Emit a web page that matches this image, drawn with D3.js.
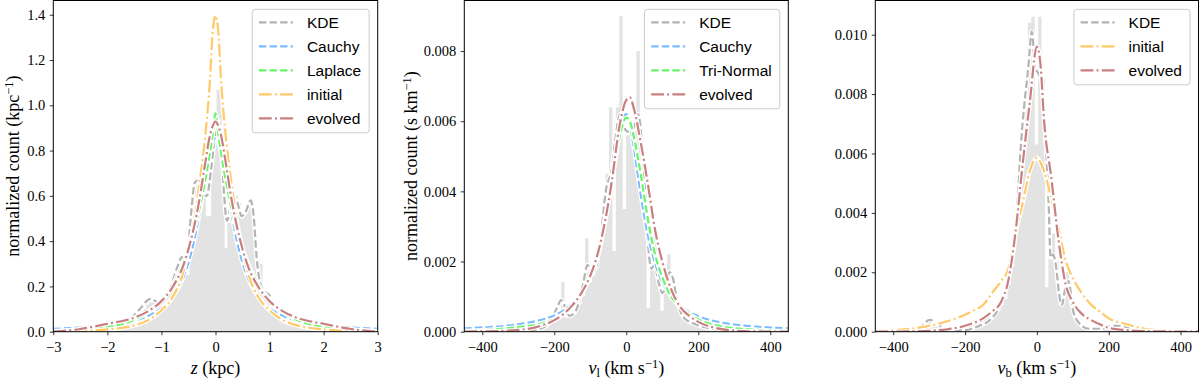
<!DOCTYPE html>
<html>
<head>
<meta charset="utf-8">
<script src="https://cdn.jsdelivr.net/npm/d3@7"></script>
<style>
body { margin: 0; background: #fff; }
svg { display: block; }
</style>
</head>
<body>
<div id="chart"></div>
<script>
'use strict';

// ---- panel 1 : z (kpc) ----
var zGrid = [-3,-2.5,-2,-1.5,-1.25,-1,-0.8,-0.6,-0.5,-0.4,-0.3,-0.2,-0.1,-0.05,0,0.05,0.1,0.2,0.3,0.4,0.5,0.6,0.8,1,1.25,1.5,2,2.5,3];
var zCauchy  = [0.0129,0.0185,0.0286,0.0495,0.0696,0.104,0.152,0.237,0.305,0.397,0.518,0.663,0.797,0.840,0.855,0.840,0.797,0.663,0.518,0.397,0.305,0.237,0.152,0.104,0.0696,0.0495,0.0286,0.0185,0.0129];
var zLaplace = [0.0029,0.0077,0.0203,0.0533,0.0865,0.140,0.206,0.303,0.368,0.446,0.541,0.656,0.795,0.876,0.965,0.876,0.795,0.656,0.541,0.446,0.368,0.303,0.206,0.140,0.0865,0.0533,0.0203,0.0077,0.0029];
var zInitial = [0,0.003,0.01,0.028,0.05,0.095,0.15,0.26,0.36,0.48,0.65,0.84,1.12,1.33,1.396,1.33,1.12,0.84,0.65,0.48,0.36,0.26,0.15,0.095,0.05,0.028,0.01,0.003,0];
var zEvolved = [0,0.012,0.035,0.062,0.09,0.135,0.195,0.29,0.365,0.46,0.58,0.73,0.87,0.91,0.928,0.91,0.87,0.73,0.58,0.46,0.365,0.29,0.195,0.135,0.09,0.062,0.035,0.012,0];
var zKdeX = [-2.5,-2.2,-2.0,-1.8,-1.6,-1.4,-1.2,-1.05,-0.9,-0.8,-0.7,-0.62,-0.54,-0.46,-0.38,-0.32,-0.22,-0.16,-0.08,0,0.05,0.1,0.16,0.21,0.28,0.36,0.43,0.48,0.56,0.65,0.71,0.76,0.85,0.95,1.0,1.1,1.25,1.5,1.8,2.1,2.5];
var zKde  = [0,0.003,0.01,0.025,0.05,0.1,0.145,0.13,0.17,0.22,0.29,0.33,0.27,0.5,0.66,0.67,0.6,0.6,0.72,0.88,0.935,0.86,0.6,0.49,0.55,0.59,0.55,0.51,0.53,0.58,0.5,0.33,0.2,0.17,0.16,0.09,0.05,0.03,0.015,0.003,0];
var zHistStart = -2.53, zHistWidth = 0.05;
var zHist = [0.01,0.01,0.01,0.015,0.01,0.015,0.015,0.02,0.015,0.02,
    0.02,0.025,0.025,0.03,0.03,0.035,0.04,0.04,0.05,0.055,
    0.06,0.07,0.08,0.09,0.1,0.12,0.13,0.13,0.12,0.12,
    0.13,0.15,0.17,0.2,0.22,0.25,0.29,0.31,0.32,0.25,
    0.25,0.44,0.52,0.68,0.68,0.66,0.6,0.51,0.51,0.78,
    0.85,1.07,1.07,0.75,0.37,0.48,0.55,0.57,0.6,0.57,
    0.5,0.52,0.55,0.57,0.52,0.45,0.32,0.3,0.18,0.17,
    0.17,0.12,0.1,0.08,0.07,0.06,0.05,0.045,0.04,0.035,
    0.03,0.03,0.025,0.025,0.02,0.02,0.02,0.015,0.015,0.015,
    0.01,0.01,0.01,0.01,0.008,0.008,0.005,0.005,0.005,0.005];

// ---- panels 2 and 3 : velocities (km/s) ----
var vGrid = [-450,-400,-350,-300,-250,-200,-175,-150,-125,-100,-80,-60,-40,-20,0,10,20,40,60,80,100,125,150,175,200,250,300,350,400,450];

var vlCauchy = [0.0000961,0.000121,0.000153,0.000214,0.000303,0.000464,0.000598,0.000788,0.00108,0.00156,0.00214,0.00305,0.00433,0.00571,0.0062,0.0059,0.00532,0.00391,0.00274,0.00195,0.00142,0.000998,0.000734,0.00056,0.000438,0.00029,0.000205,0.000153,0.000118,0.0000937];
var vlTriNormal = [0.00002,0.00004,0.00008,0.00013,0.0002,0.00036,0.0005,0.00072,0.00105,0.0016,0.0023,0.0032,0.0043,0.0055,0.0061,0.006,0.0056,0.0045,0.0032,0.0022,0.00155,0.001,0.0007,0.0005,0.00035,0.00018,0.0001,0.00006,0.00003,0.00002];
var vlEvolved = [0,0.00001,0.00002,0.00005,0.00013,0.00033,0.0005,0.00075,0.0011,0.0016,0.0022,0.0031,0.0043,0.0058,0.0066,0.00668,0.0064,0.0054,0.0042,0.0029,0.002,0.0012,0.0007,0.00045,0.00028,0.0001,0.00003,0.00001,0,0];
var vlKdeX = [-270,-230,-205,-192,-181,-170,-158,-140,-121,-108,-95,-85,-70,-57,-39,-29,-17,-5,5,20,33,44,53,62,70,78,90,100,110,120,130,141,160,195,230,270];
var vlKde  = [0.00003,0.00012,0.0004,0.0007,0.0009,0.0007,0.00045,0.0006,0.0013,0.0019,0.0017,0.0018,0.0028,0.004,0.0047,0.0056,0.0062,0.0058,0.0057,0.0058,0.0062,0.0053,0.0039,0.0023,0.0018,0.0019,0.0014,0.0011,0.0013,0.0017,0.0015,0.0009,0.0004,0.0002,0.0001,0.00003];
var vlHistStart = -295, vlHistWidth = 9.5;
var vlHist = [0.00008,0.0001,0.0001,0.00012,0.00013,0.00015,0.00017,0.0002,0.00022,0.00025,
    0.0003,0.00035,0.00142,0.0004,0.00045,0.0005,0.0006,0.0008,0.001,0.00266,
    0.0014,0.0016,0.0019,0.0023,0.0038,0.0045,0.0064,0.0023,0.0064,0.009,
    0.0035,0.0056,0.0057,0.0057,0.008,0.0055,0.0035,0.00067,0.0021,0.003,
    0.0016,0.0006,0.0012,0.0022,0.0011,0.0008,0.0006,0.0005,0.0004,0.00035,
    0.0003,0.00025,0.0002,0.00018,0.00015,0.00012,0.0001,0.0001,0.00008,0.00006,
    0.00005,0.00004];

var vbInitial = [0.00002,0.00005,0.0001,0.0002,0.00035,0.00057,0.00072,0.0009,0.0013,0.0017,0.0021,0.0033,0.0043,0.0054,0.00585,0.0057,0.0054,0.0045,0.0035,0.0024,0.0018,0.0013,0.00092,0.00068,0.00045,0.00025,0.0001,0.00004,0.00001,0];
var vbEvolved = [0,0,0.00001,0.00003,0.00008,0.0002,0.0003,0.00045,0.00068,0.001,0.0017,0.0033,0.0056,0.0077,0.0096,0.009,0.0071,0.0052,0.0031,0.0016,0.001,0.0006,0.0004,0.00025,0.00013,0.00005,0.00002,0.00001,0,0];
var vbKdeX = [-360,-330,-298,-270,-240,-200,-160,-130,-102,-85,-74,-60,-42,-24,-14,-5,4,14,23,33,38,45,52,64,70,78,88,101,117,145,180,210,235,270,300];
var vbKde  = [0.00002,0.0001,0.0004,0.0002,0.00005,0.00005,0.0002,0.0004,0.0009,0.0015,0.0021,0.0033,0.0067,0.0089,0.0101,0.0089,0.0087,0.0084,0.0067,0.0042,0.0025,0.0026,0.0023,0.0011,0.0009,0.0014,0.0017,0.0007,0.0003,0.0001,0.0001,0.0002,0.0002,0.00005,0];
var vbHistStart = -348, vbHistWidth = 9.5;
var vbHist = [0.00005,0.0001,0.0002,0.0003,0.0004,0.0004,0.0003,0.0002,0.0001,0.00008,
    0.00006,0.00006,0.00008,0.0001,0.0001,0.00012,0.00015,0.0002,0.00025,0.0003,
    0.0004,0.0005,0.0006,0.0007,0.0007,0.0008,0.0009,0.0011,0.0016,0.0022,
    0.0033,0.0045,0.006,0.0075,0.0104,0.0106,0.0063,0.0106,0.0085,0.0015,
    0.0028,0.0033,0.0024,0.0009,0.0012,0.002,0.0009,0.0005,0.0003,0.0002,
    0.00015,0.0001,0.0001,0.00008,0.00008,0.0001,0.00015,0.0002,0.0002,0.0002,
    0.0002,0.00015,0.0001,0.00008,0.00005,0.00003,0.00002];

// tick values
var zTicks = [-3,-2,-1,0,1,2,3];
var zYTicks = [0,0.2,0.4,0.6,0.8,1.0,1.2,1.4];
var vTicks = [-400,-200,0,200,400];
var vlYTicks = [0,0.002,0.004,0.006,0.008];
var vbYTicks = [0,0.002,0.004,0.006,0.008,0.010];

// line styles
var styles = {
    KDE:          {color: "#808080", dash: "7.4,3.2"},
    Cauchy:       {color: "#1e90ff", dash: "7.4,3.2"},
    Laplace:      {color: "#00ee00", dash: "7.4,3.2"},
    "Tri-Normal": {color: "#00ee00", dash: "7.4,3.2"},
    initial:      {color: "#ffa500", dash: "12.8,3.2,2,3.2"},
    evolved:      {color: "#a52a2a", dash: "12.8,3.2,2,3.2"}
};

var SERIF = "'Liberation Serif', 'DejaVu Serif', serif";
var SANS = "'Liberation Sans', Arial, sans-serif";

var W = 1200, H = 380, plotBottom = 331.7, plotTop = 0.5;

var svg = d3.select("#chart").append("svg")
    .attr("width", W).attr("height", H);

var panels = [
    {id: "p1", left: 53.3, right: 377.7, xDomain: [-3, 3], yMax: 1.463,
     xTicks: zTicks, yTicks: zYTicks, xFmt: d3.format("d"), yFmt: d3.format(".1f"),
     histStart: zHistStart, histWidth: zHistWidth, hist: zHist,
     series: [
        {name: "KDE", x: zKdeX, y: zKde},
        {name: "Cauchy", x: zGrid, y: zCauchy},
        {name: "Laplace", x: zGrid, y: zLaplace},
        {name: "initial", x: zGrid, y: zInitial},
        {name: "evolved", x: zGrid, y: zEvolved}],
     xlabel: [{t: "z", it: true}, {t: " (kpc)"}],
     ylabel: [{t: "normalized count (kpc"}, {t: "\u22121", sup: true}, {t: ")", dy: 6}],
     ylabelX: 19},
    {id: "p2", left: 464.3, right: 788.3, xDomain: [-450, 450], yMax: 0.00944,
     xTicks: vTicks, yTicks: vlYTicks, xFmt: d3.format("d"), yFmt: d3.format(".3f"),
     histStart: vlHistStart, histWidth: vlHistWidth, hist: vlHist,
     series: [
        {name: "KDE", x: vlKdeX, y: vlKde},
        {name: "Cauchy", x: vGrid, y: vlCauchy},
        {name: "Tri-Normal", x: vGrid, y: vlTriNormal},
        {name: "evolved", x: vGrid, y: vlEvolved}],
     xlabel: [{t: "v", it: true}, {t: "l", sub: true}, {t: " (km s", dy: -3}, {t: "\u22121", sup: true}, {t: ")", dy: 6}],
     ylabel: [{t: "normalized count (s km"}, {t: "\u22121", sup: true}, {t: ")", dy: 6}],
     ylabelX: 417},
    {id: "p3", left: 875.3, right: 1198.5, xDomain: [-450, 450], yMax: 0.01115,
     xTicks: vTicks, yTicks: vbYTicks, xFmt: d3.format("d"), yFmt: d3.format(".3f"),
     histStart: vbHistStart, histWidth: vbHistWidth, hist: vbHist,
     series: [
        {name: "KDE", x: vbKdeX, y: vbKde},
        {name: "initial", x: vGrid, y: vbInitial},
        {name: "evolved", x: vGrid, y: vbEvolved}],
     xlabel: [{t: "v", it: true}, {t: "b", sub: true}, {t: " (km s", dy: -3}, {t: "\u22121", sup: true}, {t: ")", dy: 6}],
     ylabel: null}
];

panels.forEach(drawPanel);

function addParts(text, parts) {
    parts.forEach(function(p) {
        var ts = text.append("tspan").text(p.t);
        if (p.it) ts.style("font-style", "italic");
        if (p.sup) ts.style("font-size", "12.5px").attr("dy", -6);
        else if (p.sub) ts.style("font-size", "12.5px").attr("dy", 3);
        else if (p.dy) ts.attr("dy", p.dy);
    });
}

function drawPanel(p) {
    var g = svg.append("g");
    var x = d3.scaleLinear().domain(p.xDomain).range([p.left, p.right]);
    var y = d3.scaleLinear().domain([0, p.yMax]).range([plotBottom, plotTop]);

    svg.append("clipPath").attr("id", "clip-" + p.id)
        .append("rect")
        .attr("x", p.left).attr("y", plotTop)
        .attr("width", p.right - p.left).attr("height", plotBottom - plotTop);

    var plot = g.append("g").attr("clip-path", "url(#clip-" + p.id + ")");

    // histogram, step filled
    var pts = p.hist.map(function(v, i) { return [p.histStart + i * p.histWidth, v]; });
    pts.push([p.histStart + p.hist.length * p.histWidth, p.hist[p.hist.length - 1]]);
    plot.append("path")
        .datum(pts)
        .attr("fill", "#e3e3e3")
        .attr("d", d3.area()
            .x(function(d) { return x(d[0]); })
            .y0(y(0))
            .y1(function(d) { return y(d[1]); })
            .curve(d3.curveStepAfter));

    var line = d3.line()
        .x(function(d) { return x(d[0]); })
        .y(function(d) { return y(d[1]); })
        .curve(d3.curveMonotoneX);

    p.series.forEach(function(s) {
        var data = s.x.map(function(xx, i) { return [xx, s.y[i]]; });
        var st = styles[s.name];
        plot.append("path").datum(data)
            .attr("fill", "none").attr("stroke", "#fff")
            .attr("stroke-width", 4.5).attr("stroke-linejoin", "round")
            .attr("d", line);
        plot.append("path").datum(data)
            .attr("fill", "none").attr("stroke", st.color)
            .attr("stroke-opacity", 0.6)
            .attr("stroke-width", 2.2)
            .attr("stroke-dasharray", st.dash)
            .attr("d", line);
    });

    // axes
    var xa = g.append("g").attr("transform", "translate(0," + plotBottom + ")")
        .call(d3.axisBottom(x).tickValues(p.xTicks).tickFormat(p.xFmt)
            .tickSize(3.5).tickPadding(7));
    var ya = g.append("g").attr("transform", "translate(" + p.left + ",0)")
        .call(d3.axisLeft(y).tickValues(p.yTicks).tickFormat(p.yFmt)
            .tickSize(3.5).tickPadding(4.5));
    [xa, ya].forEach(function(a) {
        a.select(".domain").remove();
        a.selectAll(".tick line").attr("stroke", "#000").attr("stroke-width", 0.8);
        a.selectAll(".tick text")
            .style("font-family", SERIF)
            .style("font-size", "14.5px")
            .attr("fill", "#000");
    });

    g.append("rect")
        .attr("x", p.left).attr("y", plotTop)
        .attr("width", p.right - p.left).attr("height", plotBottom - plotTop)
        .attr("fill", "none").attr("stroke", "#000").attr("stroke-width", 1);

    // axis labels
    var xl = g.append("text")
        .attr("x", (p.left + p.right) / 2).attr("y", 374)
        .attr("text-anchor", "middle")
        .style("font-family", SERIF).style("font-size", "18px");
    addParts(xl, p.xlabel);

    if (p.ylabel) {
        var yl = g.append("text")
            .attr("transform", "translate(" + p.ylabelX + "," + ((plotTop + plotBottom) / 2) + ") rotate(-90)")
            .attr("text-anchor", "middle")
            .style("font-family", SERIF).style("font-size", "18px");
        addParts(yl, p.ylabel);
    }

    // legend
    var lg = g.append("g");
    var box = lg.append("rect")
        .attr("rx", 3).attr("ry", 3)
        .attr("fill", "#fff").attr("fill-opacity", 0.8)
        .attr("stroke", "#cccccc").attr("stroke-width", 1);
    var maxW = 0;
    p.series.forEach(function(s, i) {
        var cy = 13 + i * 24;
        var st = styles[s.name];
        lg.append("line")
            .attr("x1", 6.7).attr("x2", 40.7).attr("y1", cy).attr("y2", cy)
            .attr("stroke", st.color).attr("stroke-opacity", 0.6)
            .attr("stroke-width", 2.2).attr("stroke-dasharray", st.dash);
        var t = lg.append("text")
            .attr("x", 54.7).attr("y", cy).attr("dy", "0.36em")
            .style("font-family", SANS).style("font-size", "15.5px")
            .text(s.name);
        maxW = Math.max(maxW, t.node().getComputedTextLength());
    });
    var bw = 54.7 + maxW + 8;
    box.attr("x", 0).attr("y", 0).attr("width", bw).attr("height", 24 * p.series.length + 3.5);
    lg.attr("transform", "translate(" + (p.right - 8.5 - bw) + ",9.3)");
}
</script>
</body>
</html>
